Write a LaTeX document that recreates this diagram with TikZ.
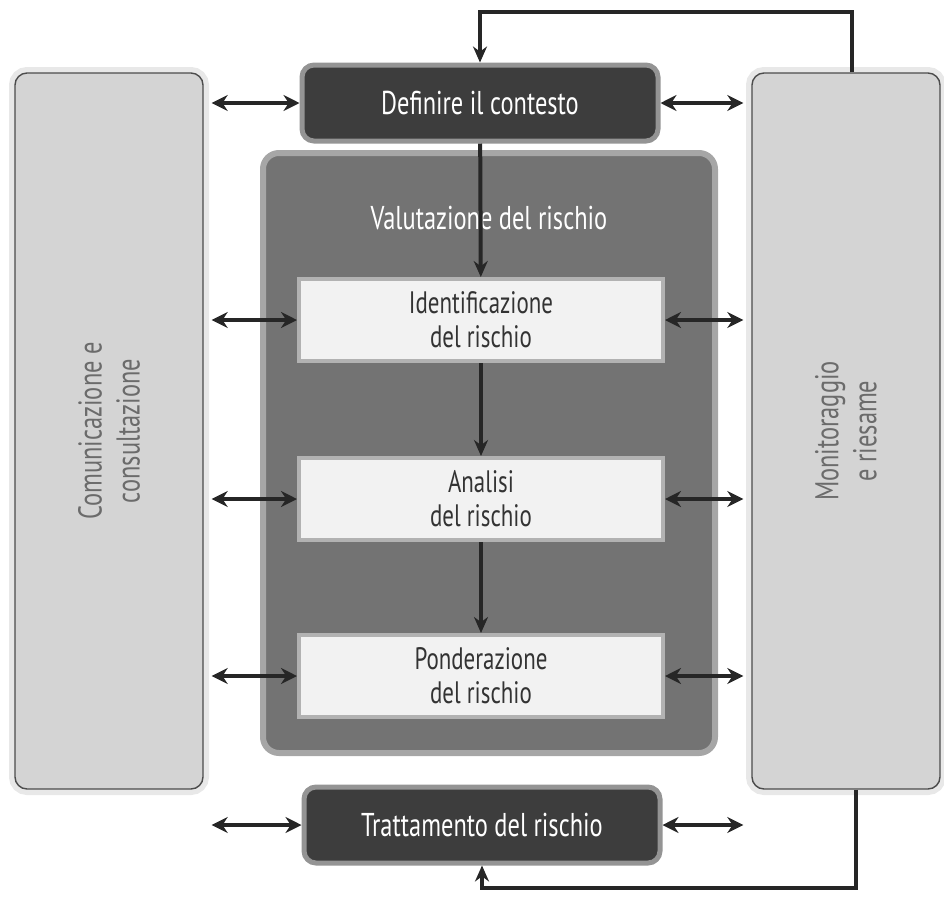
\documentclass[tikz,border=0pt]{standalone}
\usepackage{fontspec}
\setmainfont[FakeStretch=0.74]{PT Sans}
\usetikzlibrary{arrows.meta}

\begin{document}
\begin{tikzpicture}[x=0.5pt, y=-0.5pt,
    sidebox/.style={rounded corners=6pt, fill=black!17, draw=black!70, line width=0.7pt,
      preaction={draw=black!9, line width=6pt}, text=black!58, rotate=90,
      minimum width=358pt, minimum height=94pt, align=center, inner sep=0pt,
      font=\fontsize{16.5}{19}\selectfont},
    darkbox/.style={rounded corners=6pt, fill=black!76, draw=black!42, line width=2.5pt,
      text=white, minimum width=178pt, minimum height=38pt, inner sep=0pt,
      font=\fontsize{16.5}{19}\selectfont},
    stagebox/.style={rounded corners=8pt, fill=black!55, draw=black!35, line width=3pt,
      minimum width=226pt, minimum height=300pt, inner sep=0pt},
    stepbox/.style={fill=black!5, draw=black!30, line width=2pt, align=center,
      minimum width=182pt, minimum height=41pt, inner sep=0pt,
      font=\fontsize{15.5}{17}\selectfont, text=black!80},
    biarrow/.style={{Stealth[length=8pt,width=8pt]}-{Stealth[length=8pt,width=8pt]}, line width=2pt, black!85},
    flow/.style={-{Stealth[length=8pt,width=7pt]}, line width=2pt, black!85}]
  \useasboundingbox (0,0) rectangle (944,917);

  % side boxes
  \node[sidebox] (comm) at (109,431) {Comunicazione e\\consultazione};
  \node[sidebox] (moni) at (846,431) {Monitoraggio\\e riesame};

  % centre column
  \node[darkbox] (ctx) at (480,103) {Definire il contesto};
  \node[stagebox] (val) at (489,453) {};
  \node[text=white, font=\fontsize{16.5}{19}\selectfont] (valtitle) at (489,218) {Valutazione del rischio};
  \node[stepbox] (ident) at (481,320) {Identificazione\\del rischio};
  \node[stepbox] (anal) at (481,499) {Analisi\\del rischio};
  \node[stepbox] (pond) at (481,676) {Ponderazione\\del rischio};
  \node[darkbox] (tratt) at (482,825) {Trattamento del rischio};

  \draw[flow] (ctx) -- (ident);
  \draw[flow] (ident) -- (anal);
  \draw[flow] (anal) -- (pond);

  % links to the side boxes
  \foreach \n in {ctx, ident, anal, pond, tratt} {
    \draw[biarrow, shorten <=4pt] (comm.south |- \n.west) -- (\n.west);
    \draw[biarrow, shorten >=4pt] (\n.east) -- (moni.north |- \n.east);
  }

  % feedback loops
  \coordinate (top) at (480,12);
  \coordinate (bot) at (482,888);
  \draw[flow] (moni.east -| 852,0) |- (top) -- (ctx.north);
  \draw[flow] (moni.west -| 856,0) |- (bot) -- (tratt.south);
\end{tikzpicture}
\end{document}
